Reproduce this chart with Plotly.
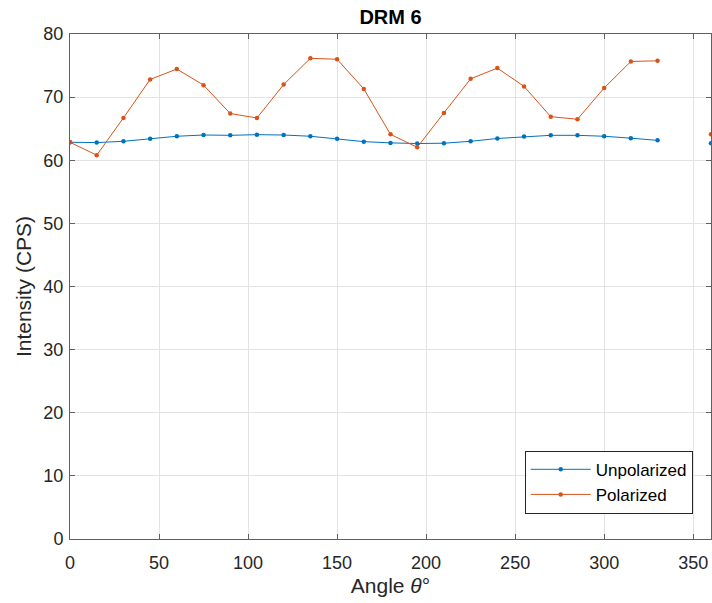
import plotly.graph_objects as go

angles = [0, 15, 30, 45, 60, 75, 90, 105, 120, 135, 150, 165, 180, 195, 210, 225,
          240, 255, 270, 285, 300, 315, 330, 345, 360]
unpolarized = [62.85, 62.8, 63.0, 63.4, 63.8, 64.0, 63.95, 64.05, 64.0, 63.8, 63.4, 62.95,
               62.75, 62.65, 62.7, 63.0, 63.45, 63.75, 63.95, 63.95, 63.8, 63.5, 63.15, None, 62.7]
polarized = [62.85, 60.8, 66.7, 72.8, 74.45, 71.9, 67.4, 66.7, 72.0, 76.15, 76.0, 71.3,
             64.1, 62.05, 67.5, 72.9, 74.6, 71.7, 66.9, 66.5, 71.45, 75.65, 75.75, None, 64.1]
x_ticks = [0, 50, 100, 150, 200, 250, 300, 350]
y_ticks = [0, 10, 20, 30, 40, 50, 60, 70, 80]

blue = "#0072BD"
orange = "#D95319"
axc = "#262626"
linec = "#606060"
font = "Liberation Sans, Arial, sans-serif"

fig = go.Figure()
fig.add_trace(go.Scatter(x=angles, y=unpolarized, mode="lines+markers", name="Unpolarized",
                         line=dict(color=blue, width=1), marker=dict(size=4.5, color=blue),
                         connectgaps=False))
fig.add_trace(go.Scatter(x=angles, y=polarized, mode="lines+markers", name="Polarized",
                         line=dict(color=orange, width=1), marker=dict(size=4.5, color=orange),
                         connectgaps=False))

axis_common = dict(showline=True, linecolor=linec, linewidth=1, mirror="ticks", ticks="inside",
                   ticklen=5, tickcolor=linec, showgrid=True, gridcolor="#E3E3E3", gridwidth=1,
                   zeroline=False, tickfont=dict(family=font, size=18, color=axc))

fig.update_layout(
    width=712, height=603,
    margin=dict(l=70, r=1, t=34, b=64),
    paper_bgcolor="white", plot_bgcolor="white",
    title=dict(text="<b>DRM 6</b>", x=(70 + 711) / 2 / 712, xanchor="center", y=1 - 17 / 603,
               yanchor="middle", font=dict(family=font, size=20, color="black")),
    xaxis=dict(range=[0, 360], tickvals=x_ticks, ticklabelstandoff=7,
               title=dict(text="Angle <i>θ</i>°", font=dict(family=font, size=21, color=axc), standoff=6),
               **axis_common),
    yaxis=dict(range=[0, 80], tickvals=y_ticks, ticklabelstandoff=2,
               title=dict(text="Intensity (CPS)", font=dict(family=font, size=21, color=axc), standoff=6),
               **axis_common),
    legend=dict(x=0.9715, y=0.05, xanchor="right", yanchor="bottom", bgcolor="white",
                bordercolor=axc, borderwidth=1, itemwidth=60,
                font=dict(family=font, size=17, color="black"), tracegroupgap=0),
    showlegend=True,
)

fig.write_html("out.html")
